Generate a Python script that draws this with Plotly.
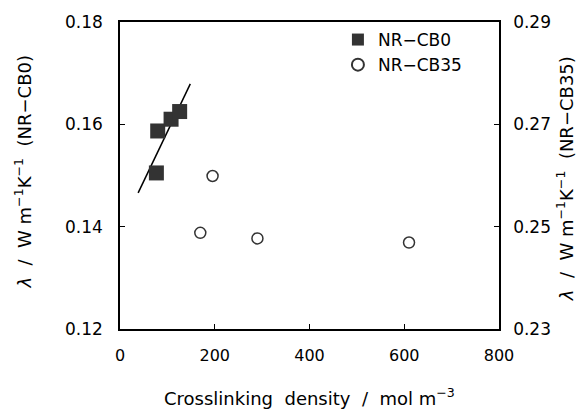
import plotly.graph_objects as go

# NR-CB0 (left axis)
cb0_x = [76.8, 79.6, 107.8, 125.9]
cb0_y = [0.1505, 0.1587, 0.1610, 0.1625]
# linear fit line for NR-CB0
fit_x = [38.3, 148.4]
fit_y = [0.1466, 0.1679]
# NR-CB35 (right axis)
cb35_x = [195.4, 169.5, 290.1, 610.1]
cb35_y = [0.2599, 0.2488, 0.2477, 0.2469]

x_ticks = [0, 200, 400, 600, 800]
y_left_ticks = [0.12, 0.14, 0.16, 0.18]
y_right_ticks = [0.23, 0.25, 0.27, 0.29]

FONT = "DejaVu Sans, Arial, sans-serif"
SP2 = "&nbsp;&nbsp;"

fig = go.Figure()
fig.add_trace(go.Scatter(x=fit_x, y=fit_y, mode="lines", line=dict(color="black", width=1.5),
                         showlegend=False, hoverinfo="skip"))
fig.add_trace(go.Scatter(x=cb0_x, y=cb0_y, mode="markers", name="NR−CB0",
                         marker=dict(symbol="square", size=15, color="#333333")))
fig.add_trace(go.Scatter(x=cb35_x, y=cb35_y, mode="markers", name="NR−CB35", yaxis="y2",
                         marker=dict(symbol="circle-open", size=11, color="#333333",
                                     line=dict(width=1.5, color="#333333"))))

axis_common = dict(showgrid=False, zeroline=False, showline=True, linecolor="black", linewidth=1.5,
                   ticks="inside", ticklen=5, tickcolor="black", tickwidth=1)

fig.update_layout(
    width=579, height=413,
    margin=dict(l=120, r=80, t=18, b=84),
    plot_bgcolor="white", paper_bgcolor="white",
    font=dict(family=FONT, size=17, color="black"),
    xaxis=dict(range=[0, 800], tickvals=x_ticks, mirror=True, ticklabelstandoff=11,
               tickfont=dict(family=FONT, size=16, color="black"), **axis_common),
    yaxis=dict(range=[0.12, 0.18], tickvals=y_left_ticks, tickformat=".2f", ticklabelstandoff=12,
               tickfont=dict(family=FONT, size=17, color="black"), **axis_common),
    yaxis2=dict(range=[0.23, 0.29], tickvals=y_right_ticks, tickformat=".2f", overlaying="y", side="right",
                ticklabelstandoff=9, tickfont=dict(family=FONT, size=17, color="black"), **axis_common),
    legend=dict(x=0.575, y=1.0, xanchor="left", yanchor="top", bgcolor="rgba(0,0,0,0)",
                font=dict(family=FONT, size=17), itemsizing="constant", tracegroupgap=0),
    showlegend=True,
    annotations=[
        dict(text="Crosslinking" + SP2 + "density" + SP2 + "/" + SP2 + "mol m<sup>−3</sup>",
             xref="paper", yref="paper",
             x=0.5, y=-0.222, yanchor="middle", xanchor="center", showarrow=False,
             font=dict(family=FONT, size=18)),
        dict(text="<i>λ</i>" + SP2 + "/" + SP2 + "W m<sup>−1</sup>K<sup>−1</sup>" + SP2 + "(NR−CB0)",
             xref="paper", yref="paper",
             x=-0.255, y=0.514, textangle=-90, xanchor="center", yanchor="middle", showarrow=False,
             font=dict(family=FONT, size=18)),
        dict(text="<i>λ</i>" + SP2 + "/" + SP2 + "W m<sup>−1</sup>K<sup>−1</sup>" + SP2 + "(NR−CB35)",
             xref="paper", yref="paper",
             x=1.175, y=0.489, textangle=-90, xanchor="center", yanchor="middle", showarrow=False,
             font=dict(family=FONT, size=18)),
    ],
)

fig.write_html("out.html")
